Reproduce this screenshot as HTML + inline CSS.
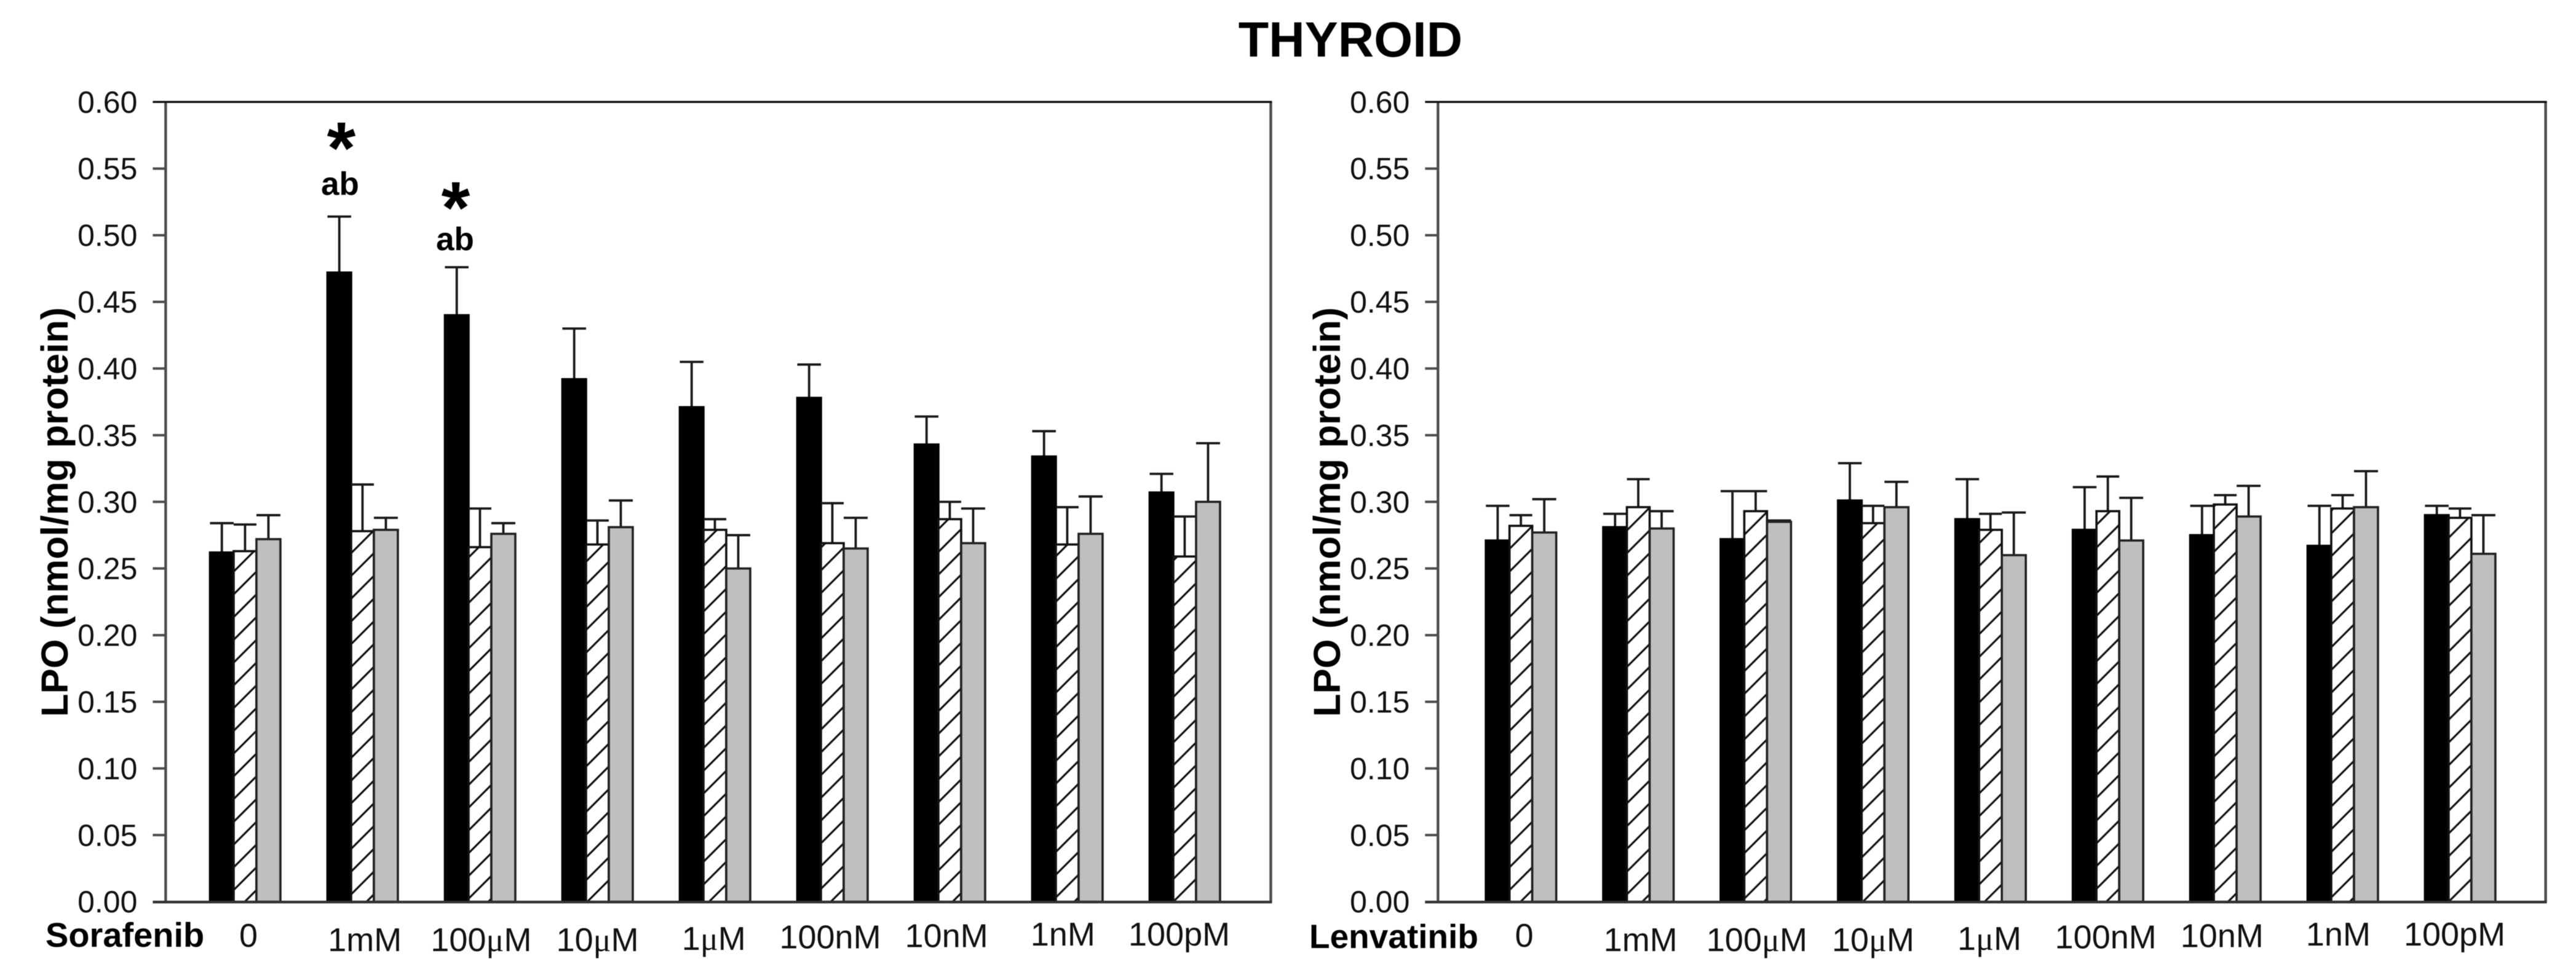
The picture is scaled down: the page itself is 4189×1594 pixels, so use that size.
<!DOCTYPE html>
<html lang="en">
<head>
<meta charset="utf-8">
<title>Thyroid LPO</title>
<style>
html,body{margin:0;padding:0;background:#fff;}
svg{display:block;font-family:"Liberation Sans",Arial,sans-serif;fill:#111;filter:blur(0.6px);}
</style>
</head>
<body>
<svg id="chart" xmlns="http://www.w3.org/2000/svg" width="4189" height="1594" viewBox="0 0 4189 1594">
  <rect x="0" y="0" width="4189" height="1594" fill="#fff"/>
  <defs id="defs"></defs>
  <text x="2196" y="92" font-size="81" font-weight="700" text-anchor="middle" fill="#000">THYROID</text>
  <text x="74" y="1540" font-size="56" font-weight="700" fill="#000">Sorafenib</text>
  <text x="2129" y="1542" font-size="55" font-weight="700" fill="#000">Lenvatinib</text>
  <text x="555" y="282" font-size="120" font-weight="700" text-anchor="middle" fill="#000">*</text>
  <text x="553" y="317" font-size="53" font-weight="700" text-anchor="middle" fill="#000">ab</text>
  <text x="741" y="379" font-size="120" font-weight="700" text-anchor="middle" fill="#000">*</text>
  <text x="740" y="407" font-size="53" font-weight="700" text-anchor="middle" fill="#000">ab</text>
</svg>
<script>
const categories = ['0', '1mM', '100μM', '10μM', '1μM', '100nM', '10nM', '1nM', '100pM'];
const tickValues = [0, 0.05, 0.10, 0.15, 0.20, 0.25, 0.30, 0.35, 0.40, 0.45, 0.50, 0.55, 0.60];
const tickLabels = ['0.00', '0.05', '0.10', '0.15', '0.20', '0.25', '0.30', '0.35', '0.40', '0.45', '0.50', '0.55', '0.60'];

const sorafenibSolid = [0.262, 0.472, 0.440, 0.392, 0.371, 0.378, 0.343, 0.334, 0.307];
const sorafenibSolidUpper = [0.284, 0.514, 0.476, 0.430, 0.405, 0.403, 0.364, 0.353, 0.321];
const sorafenibHatched = [0.263, 0.278, 0.266, 0.268, 0.279, 0.269, 0.287, 0.268, 0.259];
const sorafenibHatchedUpper = [0.283, 0.313, 0.295, 0.286, 0.287, 0.299, 0.300, 0.296, 0.289];
const sorafenibGray = [0.272, 0.279, 0.276, 0.281, 0.250, 0.265, 0.269, 0.276, 0.300];
const sorafenibGrayUpper = [0.290, 0.288, 0.284, 0.301, 0.275, 0.288, 0.295, 0.304, 0.344];

const lenvatinibSolid = [0.271, 0.281, 0.272, 0.301, 0.287, 0.279, 0.275, 0.267, 0.290];
const lenvatinibSolidUpper = [0.297, 0.291, 0.308, 0.329, 0.317, 0.311, 0.297, 0.297, 0.297];
const lenvatinibHatched = [0.282, 0.296, 0.293, 0.284, 0.279, 0.293, 0.298, 0.295, 0.288];
const lenvatinibHatchedUpper = [0.290, 0.317, 0.308, 0.297, 0.291, 0.319, 0.305, 0.305, 0.295];
const lenvatinibGray = [0.277, 0.280, 0.285, 0.296, 0.260, 0.271, 0.289, 0.296, 0.261];
const lenvatinibGrayUpper = [0.302, 0.293, 0.286, 0.315, 0.292, 0.303, 0.312, 0.323, 0.290];

const SVG_NS = 'http://www.w3.org/2000/svg';
const svg = document.getElementById('chart');
const defs = document.getElementById('defs');
const INK = '#1a1a1a';
const AXIS = '#4d4d4d';

const plotTop = 165.8;
const plotBottom = 1466.7;
const yMax = 0.6;

function yScale(v) {
  return plotBottom - (v / yMax) * (plotBottom - plotTop);
}

function el(tag, parent) {
  const node = document.createElementNS(SVG_NS, tag);
  parent.appendChild(node);
  return node;
}

function setAll(node, attrs) {
  for (const key in attrs) node.setAttribute(key, attrs[key]);
  return node;
}

function fillLabel(node, label) {
  const parts = label.split('μ');
  if (parts.length === 1) {
    node.textContent = label;
    return;
  }
  node.appendChild(document.createTextNode(parts[0]));
  const mu = el('tspan', node);
  mu.setAttribute('font-family', '"Liberation Serif", serif');
  mu.textContent = 'μ';
  node.appendChild(document.createTextNode(parts[1]));
}

function addHatch(id, left, phase) {
  const p = el('pattern', defs);
  const period = 37;
  setAll(p, {
    id: id,
    patternUnits: 'userSpaceOnUse',
    width: period,
    height: period,
    patternTransform: 'translate(' + (left + phase) + ' ' + (plotBottom - period) + ')'
  });
  const bg = el('rect', p);
  setAll(bg, { x: 0, y: 0, width: period, height: period, fill: '#fff' });
  const line = el('path', p);
  setAll(line, {
    d: 'M-5 ' + (period + 5) + ' L' + (period + 5) + ' -5 M-5 5 L5 -5 M' + (period - 5) + ' ' + (period + 5) + ' L' + (period + 5) + ' ' + (period - 5),
    stroke: '#111',
    'stroke-width': 3.2,
    fill: 'none'
  });
}

function drawBar(g, left, right, value, upper, fill, stroke) {
  const top = yScale(value);
  const capY = yScale(upper);
  const mid = (left + right) / 2;

  const stem = el('line', g);
  
  
  setAll(stem, { x1: mid, x2: mid, y1: top, y2: capY, stroke: INK, 'stroke-width': 3.8 });

  const cap = el('line', g);
  
  
  setAll(cap, { x1: left, x2: right, y1: capY, y2: capY, stroke: INK, 'stroke-width': 3.8 });

  const bar = el('rect', g);
  
  
  setAll(bar, { x: left, y: top, width: right - left, height: plotBottom - top, fill: fill, stroke: stroke, 'stroke-width': 3.6 });
}

function drawPanel(cfg) {
  const panel = el('g', svg);
  
  

  // frame
  const frame = el('path', panel);
  
  
  setAll(frame, {
    d: 'M' + cfg.axisX + ' ' + plotTop + ' V' + plotBottom + ' M' + cfg.rightX + ' ' + plotTop + ' V' + plotBottom,
    stroke: AXIS, 'stroke-width': 4.4, fill: 'none'
  });

  const topLine = el('line', panel);
  
  
  setAll(topLine, { x1: cfg.axisX - 21, x2: cfg.rightX + 2, y1: plotTop, y2: plotTop, stroke: '#111', 'stroke-width': 3.4 });

  // y ticks
  tickValues.forEach(function (v, i) {
    const y = yScale(v);
    if (i > 0 && i < tickValues.length - 1) {
      const tick = el('line', panel);
      
      
      setAll(tick, { x1: cfg.axisX - 21, x2: cfg.axisX, y1: y, y2: y, stroke: AXIS, 'stroke-width': 4 });
    }
    const label = el('text', panel);
    
    
    setAll(label, { x: cfg.axisX - 46, y: y + 17.5, 'font-size': 50, 'text-anchor': 'end' });
    label.textContent = tickLabels[i];
  });

  // y title
  const title = el('text', panel);
  
  
  setAll(title, {
    transform: 'translate(' + cfg.titleX + ' 1166) rotate(-90)',
    'font-size': 61.5, 'font-weight': 700, fill: '#000'
  });
  title.textContent = 'LPO (nmol/mg protein)';

  // bars
  categories.forEach(function (cat, i) {
    const x0 = cfg.originX + i * cfg.step;
    const g = el('g', panel);
    
    

    const hatchId = 'hatch-' + cfg.name + '-' + i;
    addHatch(hatchId, x0 + 40, (18 + i * 7) % 37);

    drawBar(g, x0 + 1.5, x0 + 40, cfg.solid[i], cfg.solidUpper[i], '#000', '#000');
    drawBar(g, x0 + 40, x0 + 77, cfg.hatched[i], cfg.hatchedUpper[i], 'url(#' + hatchId + ')', '#111');
    drawBar(g, x0 + 77, x0 + 116, cfg.gray[i], cfg.grayUpper[i], '#bfbfbf', '#222');

    const label = el('text', panel);
    
    
    const drift = 6 - 1.8 * i;
    const base = Math.max(1538, Math.min(1547, 1547 - 2.2 * (i - 3)));
    setAll(label, {
      x: x0 + 58 + drift,
      y: i === 0 ? 1540 : base,
      'font-size': 54,
      'text-anchor': 'middle'
    });
    fillLabel(label, cat);
  });

  // bottom axis on top of bars
  const bottom = el('line', panel);
  
  
  setAll(bottom, { x1: cfg.axisX - 21, x2: cfg.rightX + 2, y1: plotBottom + 0.5, y2: plotBottom + 0.5, stroke: '#333', 'stroke-width': 4.4 });
}

drawPanel({
  name: 'sorafenib', axisX: 269.4, rightX: 2066.5, titleX: 110,
  originX: 340, step: 191,
  solid: sorafenibSolid, solidUpper: sorafenibSolidUpper,
  hatched: sorafenibHatched, hatchedUpper: sorafenibHatchedUpper,
  gray: sorafenibGray, grayUpper: sorafenibGrayUpper
});

drawPanel({
  name: 'lenvatinib', axisX: 2338.4, rightX: 4139.6, titleX: 2179,
  originX: 2414.7, step: 190.9,
  solid: lenvatinibSolid, solidUpper: lenvatinibSolidUpper,
  hatched: lenvatinibHatched, hatchedUpper: lenvatinibHatchedUpper,
  gray: lenvatinibGray, grayUpper: lenvatinibGrayUpper
});
</script>
</body>
</html>
